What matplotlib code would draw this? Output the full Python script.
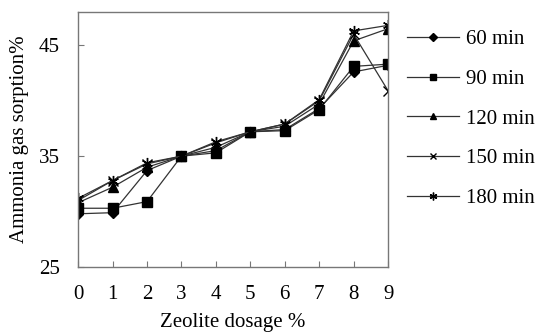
import matplotlib.pyplot as plt

plt.rcParams['font.family'] = ['Liberation Serif', 'DejaVu Serif']

dosage = [0, 1, 2, 3, 4, 5, 6, 7, 8, 9]
labels = ["60 min", "90 min", "120 min", "150 min", "180 min"]
sorption_60 = [29.8, 29.9, 33.7, 35.0, 35.5, 37.2, 37.4, 39.3, 42.6, 43.2]
sorption_90 = [30.3, 30.3, 30.9, 35.0, 35.3, 37.2, 37.3, 39.2, 43.1, 43.3]
sorption_120 = [30.8, 32.2, 34.0, 35.0, 35.8, 37.2, 37.7, 39.7, 45.4, 46.5]
sorption_150 = [31.0, 32.8, 34.3, 35.0, 36.2, 37.2, 37.9, 40.0, 46.0, 40.9]
sorption_180 = [31.2, 32.8, 34.4, 35.0, 36.3, 37.2, 37.9, 40.1, 46.3, 46.8]

series = [sorption_60, sorption_90, sorption_120, sorption_150, sorption_180]
markers = ["D", "s", "^", "x", (6, 2, 0)]
sizes = [5.5, 7, 7, 7, 8]

fig = plt.figure(figsize=(5.39, 3.35), dpi=100)
ax = fig.add_axes([0.145, 0.203, 0.575, 0.761])

for vals, lab, m, s in zip(series, labels, markers, sizes):
    ax.plot(dosage, vals, color="#333333", linewidth=0.9, marker=m,
            markersize=s, markerfacecolor="black", markeredgecolor="black",
            markeredgewidth=1.0, label=lab)

ax.set_xlim(0, 9)
ax.set_ylim(25, 48)
ax.set_xticks(dosage)
ax.set_yticks([25, 35, 45])
ax.tick_params(direction="in", labelsize=15, length=4, color="#777777")
ax.tick_params(axis="x", pad=13)
ax.tick_params(axis="y", pad=13)
for sp in ax.spines.values():
    sp.set_color("#777777")
    sp.set_linewidth(1.0)
ax.set_xlabel("Zeolite dosage %", fontsize=15, va="center")
ax.xaxis.set_label_coords(0.5, -0.218)
ax.set_ylabel("Ammonia gas sorption%", fontsize=15, va="center")
ax.yaxis.set_label_coords(-0.188, 0.5)

fig.legend(loc="upper left", bbox_to_anchor=(0.755, 0.912), frameon=False,
           fontsize=15, handlelength=2.5, labelspacing=0.97, handletextpad=0.35,
           markerscale=0.7, borderaxespad=0, borderpad=0)

fig.savefig("out.png", dpi=100)
